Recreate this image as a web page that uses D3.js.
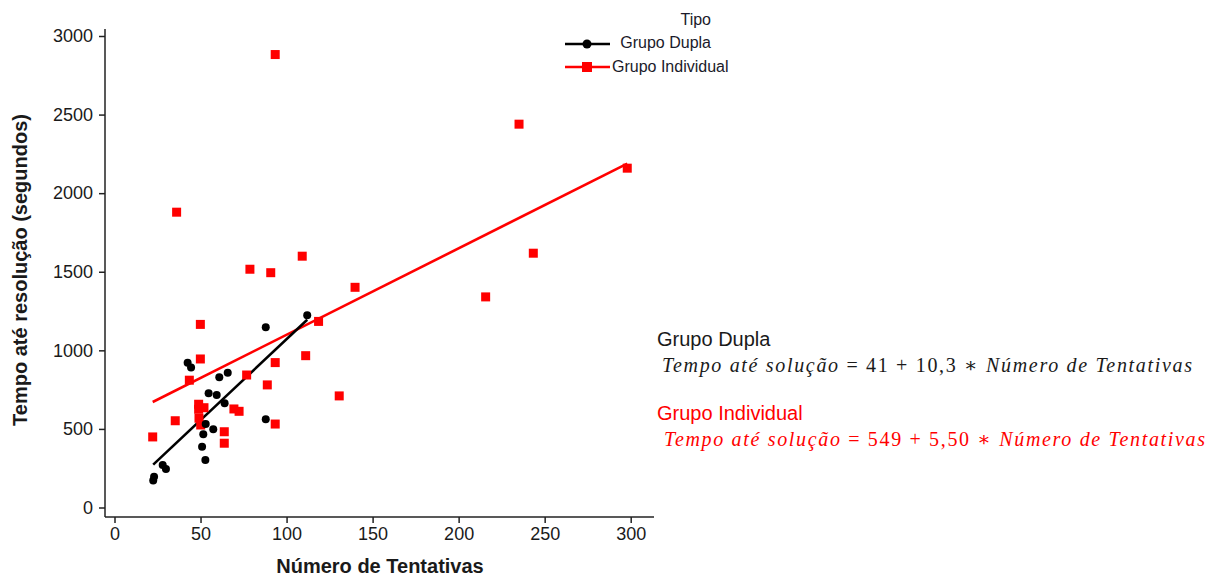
<!DOCTYPE html>
<html lang="pt">
<head>
<meta charset="UTF-8">
<style>
  body { margin: 0; background: #fff; }
  svg text { font-family: "Liberation Sans", Arial, sans-serif; }
  svg text.eq { font-family: "Liberation Serif", "DejaVu Serif", serif; }
</style>
</head>
<body>
<script src="https://d3js.org/d3.v7.min.js"></script>
<script>
// dados
var duplaX = [112.0, 87.9, 42.5, 44.5, 60.9, 65.8, 54.7, 59.4, 64.0, 53.0, 57.4, 51.6, 50.9, 87.9, 52.8, 28.0, 29.9, 23.0, 22.5];
var duplaY = [1223, 1147, 921, 890, 829, 858, 727, 716, 663, 531, 498, 466, 387, 561, 302, 270, 245, 196, 171];

var indivX = [93.4, 235.1, 298.0, 36.1, 78.7, 90.8, 109.1, 139.8, 243.4, 215.7, 118.6, 49.9, 111.1, 49.9, 93.4, 130.6,
              43.5, 76.8, 88.8, 48.9, 52.0, 48.9, 69.4, 72.4, 35.3, 49.1, 50.1, 63.8, 93.4, 22.2, 63.8];
var indivY = [2882, 2439, 2159, 1879, 1516, 1494, 1599, 1401, 1618, 1340, 1184, 1165, 966, 945, 922, 710,
              810, 843, 780, 657, 635, 625, 627, 612, 552, 568, 525, 482, 531, 449, 409];

// regressões (intercepto, inclinação)
var fitDupla = [41, 10.3];
var fitIndiv = [549, 5.50];

var xTicks = [0, 50, 100, 150, 200, 250, 300];
var yTicks = [0, 500, 1000, 1500, 2000, 2500, 3000];
var groups = ["Grupo Dupla", "Grupo Individual"];

var width = 1215, height = 576;
var svg = d3.select("body").append("svg")
    .attr("width", width)
    .attr("height", height);

var x = d3.scaleLinear().domain([0, 300]).range([114.5, 630.7]);
var y = d3.scaleLinear().domain([0, 3000]).range([507.5, 36]);

var axisX0 = 105, axisY0 = 517;

// eixo y
var gy = svg.append("g")
    .attr("transform", "translate(" + axisX0 + ",0)")
    .call(d3.axisLeft(y).tickValues(yTicks).tickSize(6).tickPadding(6).tickFormat(d3.format("d")));
gy.select(".domain").remove();
gy.selectAll("line").attr("stroke", "#222").attr("stroke-width", 1.5);
gy.selectAll("text").attr("font-size", 18).attr("fill", "#1a1a1a");
svg.append("line")
    .attr("x1", axisX0).attr("x2", axisX0)
    .attr("y1", 29).attr("y2", axisY0)
    .attr("stroke", "#222").attr("stroke-width", 1.5);

// eixo x
var gx = svg.append("g")
    .attr("transform", "translate(0," + axisY0 + ")")
    .call(d3.axisBottom(x).tickValues(xTicks).tickSize(6).tickPadding(4));
gx.select(".domain").remove();
gx.selectAll("line").attr("stroke", "#222").attr("stroke-width", 1.5);
gx.selectAll("text").attr("font-size", 18).attr("fill", "#1a1a1a");
svg.append("line")
    .attr("x1", axisX0).attr("x2", 654)
    .attr("y1", axisY0).attr("y2", axisY0)
    .attr("stroke", "#222").attr("stroke-width", 1.5);

// títulos dos eixos
svg.append("text")
    .attr("x", 380).attr("y", 573)
    .attr("text-anchor", "middle")
    .attr("font-size", 20).attr("font-weight", "bold").attr("fill", "#1a1a1a")
    .text("Número de Tentativas");
svg.append("text")
    .attr("transform", "translate(27,270) rotate(-90)")
    .attr("text-anchor", "middle")
    .attr("font-size", 20).attr("font-weight", "bold").attr("fill", "#1a1a1a")
    .text("Tempo até resolução (segundos)");

// retas de regressão
var line = d3.line().x(function(d) { return x(d[0]); }).y(function(d) { return y(d[1]); });
function fitPoints(xs, fit) {
    var ext = d3.extent(xs);
    return ext.map(function(v) { return [v, fit[0] + fit[1] * v]; });
}
svg.append("path")
    .attr("d", line(fitPoints(indivX, fitIndiv)))
    .attr("fill", "none").attr("stroke", "#ff0000").attr("stroke-width", 2.6);
svg.append("path")
    .attr("d", line(fitPoints(duplaX, fitDupla)))
    .attr("fill", "none").attr("stroke", "#000").attr("stroke-width", 2.6);

// pontos
var sq = 9;
svg.append("g").selectAll("rect")
    .data(d3.range(indivX.length))
    .enter().append("rect")
    .attr("x", function(i) { return x(indivX[i]) - sq / 2; })
    .attr("y", function(i) { return y(indivY[i]) - sq / 2; })
    .attr("width", sq).attr("height", sq)
    .attr("fill", "#ff0000");

svg.append("g").selectAll("circle")
    .data(d3.range(duplaX.length))
    .enter().append("circle")
    .attr("cx", function(i) { return x(duplaX[i]); })
    .attr("cy", function(i) { return y(duplaY[i]); })
    .attr("r", 4)
    .attr("fill", "#000");

// legenda
var lg = svg.append("g").attr("font-size", 16).attr("fill", "#1a1a2a");
lg.append("text").attr("x", 711).attr("y", 25).attr("text-anchor", "end").text("Tipo");
lg.append("text").attr("x", 711).attr("y", 48).attr("text-anchor", "end").text(groups[0]);
lg.append("text").attr("x", 612).attr("y", 72).text(groups[1]);
lg.append("line").attr("x1", 565).attr("x2", 610).attr("y1", 44).attr("y2", 44)
    .attr("stroke", "#000").attr("stroke-width", 2.6);
lg.append("circle").attr("cx", 587).attr("cy", 44).attr("r", 4.5).attr("fill", "#000");
lg.append("line").attr("x1", 565).attr("x2", 610).attr("y1", 67).attr("y2", 67)
    .attr("stroke", "#ff0000").attr("stroke-width", 2.6);
lg.append("rect").attr("x", 582).attr("y", 62).attr("width", 10).attr("height", 10).attr("fill", "#ff0000");

// equações
function equation(yBase, xStart, len, color, title, b0, b1) {
    svg.append("text").attr("x", 657).attr("y", yBase - 26)
        .attr("font-size", 20).attr("fill", color).text(title);
    var t = svg.append("text").attr("class", "eq").attr("x", xStart).attr("y", yBase)
        .attr("font-size", 20).attr("fill", color)
        .attr("textLength", len).attr("lengthAdjust", "spacing");
    t.append("tspan").attr("font-style", "italic").text("Tempo até solução ");
    t.append("tspan").text("= " + b0 + "  + " + b1 + " ∗ ");
    t.append("tspan").attr("font-style", "italic").text("Número de Tentativas");
}
equation(372, 662, 530, "#1a1a1a", groups[0], "41", "10,3");
equation(446, 664, 541, "#ff0000", groups[1], "549", "5,50");
</script>
</body>
</html>
